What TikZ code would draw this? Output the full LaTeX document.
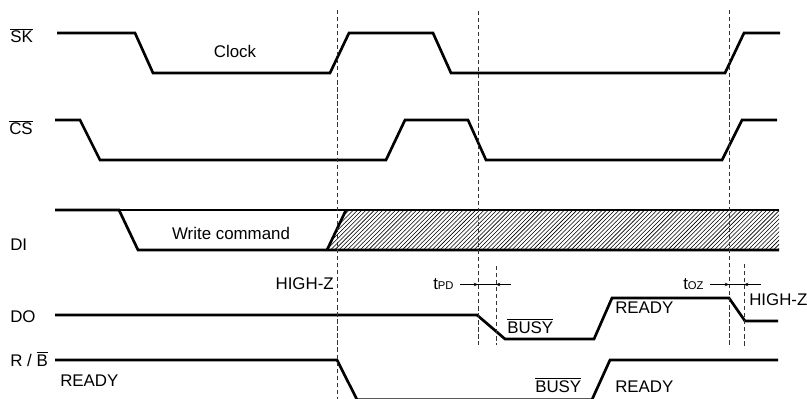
\documentclass[tikz,border=0pt]{standalone}
\usepackage{fontspec}
\setmainfont{Liberation Sans}
\usetikzlibrary{arrows.meta, patterns}

\begin{document}
\begin{tikzpicture}[
    x=0.025cm, y=-0.025cm,
    sig/.style={line width=1.9pt, line join=miter},
    marker/.style={dash pattern=on 3pt off 2pt, line width=0.5pt, black!80},
    lbl/.style={inner sep=0pt, anchor=base west, font=\fontsize{12}{14}\selectfont},
    tick/.style={line width=0.4pt, -{Stealth[length=3pt, width=2.5pt]}},
    ]
    \useasboundingbox (0,0) rectangle (807,399);

    % signal names
    \node[lbl] (sk) at (10,43) {$\overline{\mbox{SK}}$};
    \node[lbl] (cs) at (9,135) {$\overline{\mbox{CS}}$};
    \node[lbl] (di) at (10,250) {DI};
    \node[lbl] (do) at (10,322) {DO};
    \node[lbl] (rb) at (10,366) {R / $\overline{\mbox{B}}$};

    % SK
    \draw[sig] (57,33) -- (135,33) -- (153,73) -- (330,73) -- (349,33) -- (433,33)
        -- (451,73) -- (725,73) -- (744,33) -- (780,33);
    \node[lbl, anchor=base] (clk) at (235,58) {Clock};

    % CS
    \draw[sig] (55,120) -- (80,120) -- (100,160) -- (386,160) -- (405,120) -- (468,120)
        -- (486,160) -- (722,160) -- (742,120) -- (777,120);

    % DI with hatched don't-care part
    \fill[pattern=north east lines] (327,250) -- (346,210) -- (779,210) -- (779,250) -- cycle;
    \draw[sig] (55,210) -- (119,210) -- (138,250) -- (779,250);
    \draw[sig] (119,210) -- (779,210);
    \draw[sig] (327,250) -- (346,210);
    \node[lbl, anchor=base] (wcmd) at (231,239) {Write command};

    % DO
    \draw[sig] (55,315) -- (477,315) -- (505,339) -- (594,339) -- (612,298) -- (729,298)
        -- (745,321) -- (778,321);
    \node[lbl, anchor=base east] (hz1) at (334,289) {HIGH-Z};
    \node[lbl] (busy1) at (507,333) {$\overline{\mbox{BUSY}}$};
    \node[lbl] (rdy1) at (615,313) {READY};
    \node[lbl] (hz2) at (749,305) {HIGH-Z};

    % R/B
    \draw[sig] (55,360) -- (337,360) -- (357,399.6) -- (592,399.6) -- (610,360) -- (778,360);
    \node[lbl] (rdy2) at (60,386) {READY};
    \node[lbl] (busy2) at (535,392) {$\overline{\mbox{BUSY}}$};
    \node[lbl] (rdy3) at (615,392) {READY};

    % timing markers
    \coordinate (m1t) at (337,10);  \coordinate (m1b) at (337,399);
    \coordinate (m2t) at (478,11);  \coordinate (m2b) at (478,345);
    \coordinate (m3t) at (496,266); \coordinate (m3b) at (496,345);
    \coordinate (m4t) at (729,10);  \coordinate (m4b) at (729,347);
    \coordinate (m5t) at (744,264); \coordinate (m5b) at (744,347);
    \draw[marker] (m1t) -- (m1b);
    \draw[marker] (m2t) -- (m2b);
    \draw[marker] (m3t) -- (m3b);
    \draw[marker] (m4t) -- (m4b);
    \draw[marker] (m5t) -- (m5b);

    % tPD and tOZ
    \node[lbl] (tpd) at (433,289) {t{\fontsize{8}{9}\selectfont PD}};
    \node[lbl] (toz) at (683,289) {t{\fontsize{8}{9}\selectfont OZ}};
    \coordinate (tpdl) at (460,284.5);
    \coordinate (tpdr) at (511,284.5);
    \coordinate (tozl) at (710,284.5);
    \coordinate (tozr) at (761,284.5);
    \draw[line width=0.4pt] (tpdl) -- (tpdr);
    \draw[line width=0.4pt] (tozl) -- (tozr);
    \draw[tick] (tpdl) -- (tpdl -| m2t);
    \draw[tick] (tpdr) -- (tpdr -| m3t);
    \draw[tick] (tozl) -- (tozl -| m4t);
    \draw[tick] (tozr) -- (tozr -| m5t);
\end{tikzpicture}
\end{document}
